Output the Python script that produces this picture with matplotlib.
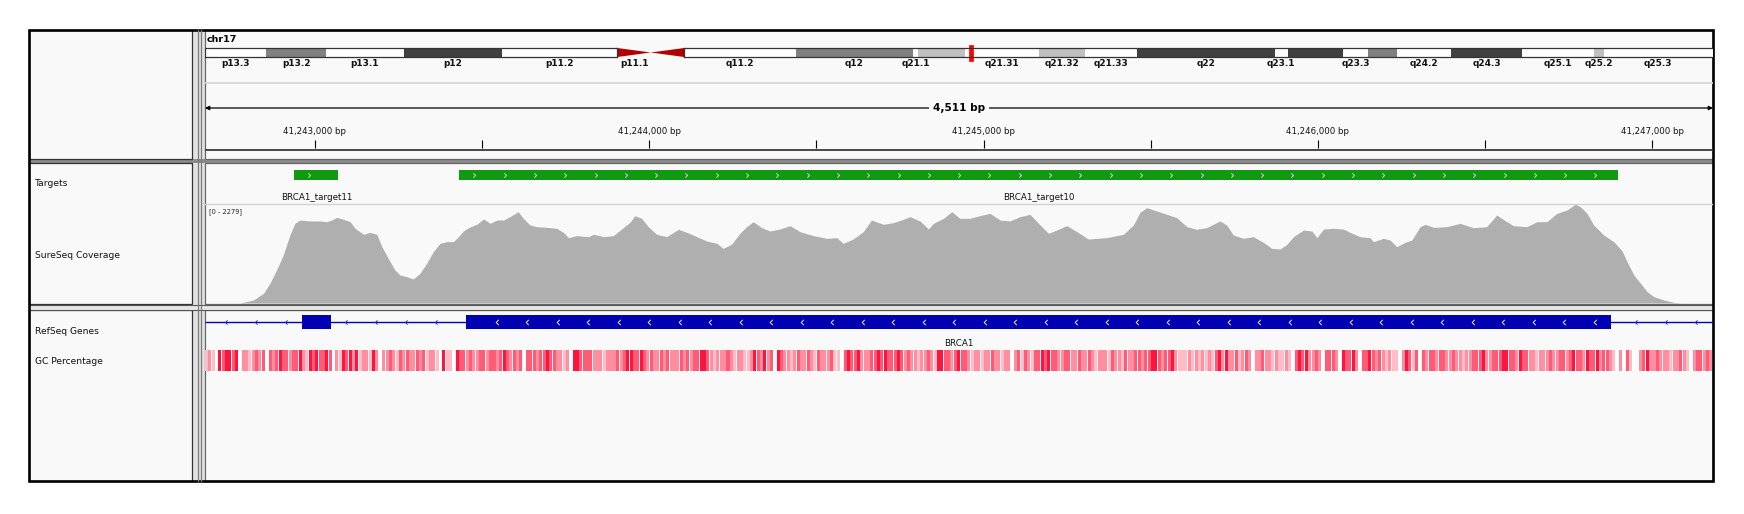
import numpy as np
import matplotlib
matplotlib.use("Agg")
import matplotlib.pyplot as plt
from matplotlib.patches import Rectangle, Polygon
from matplotlib.path import Path

# ---------------- data ----------------
chrom_name = "chr17"
view_start = 41242671
view_end = 41247182
chrom_length = 81195210

band_names = ["p13.3", "p13.2", "p13.1", "p12", "p11.2", "p11.1", "q11.1", "q11.2",
              "q12", "q21.1", "q21.2", "q21.31", "q21.32", "q21.33", "q22", "q23.1",
              "q23.2", "q23.3", "q24.1", "q24.2", "q24.3", "q25.1", "q25.2", "q25.3"]
band_start_mb = [0.0, 3.3, 6.5, 10.7, 16.0, 22.2, 24.0, 25.8, 31.8, 38.1, 38.4, 40.9,
                 44.9, 47.4, 50.2, 57.6, 58.3, 61.3, 62.6, 64.2, 67.1, 70.9, 74.8, 75.3]
band_end_mb = [3.3, 6.5, 10.7, 16.0, 22.2, 24.0, 25.8, 31.8, 38.1, 38.4, 40.9, 44.9,
               47.4, 50.2, 57.6, 58.3, 61.3, 62.6, 64.2, 67.1, 70.9, 74.8, 75.3, 81.195]
band_stain = ["gneg", "gpos50", "gneg", "gpos75", "gneg", "acen", "acen", "gneg",
              "gpos50", "gneg", "gpos25", "gneg", "gpos25", "gneg", "gpos75", "gneg",
              "gpos75", "gneg", "gpos50", "gneg", "gpos75", "gneg", "gpos25", "gneg"]
band_labeled = [1, 1, 1, 1, 1, 1, 0, 1, 1, 1, 0, 1, 1, 1, 1, 1, 0, 1, 0, 1, 1, 1, 1, 1]

tick_major = [41243000, 41244000, 41245000, 41246000, 41247000]
tick_minor = [41243500, 41244500, 41245500, 41246500]

target_names = ["BRCA1_target11", "BRCA1_target10"]
target_start = [41242938, 41243432]
target_end = [41243070, 41246899]

gene_name = "BRCA1"
exon_start = [41242960, 41243451]
exon_end = [41243048, 41246878]

track_names = ["Targets", "SureSeq Coverage", "RefSeq Genes", "GC Percentage"]

cov_max = 2279
cov_offset_bp = [0, 105, 110, 145, 175, 194, 214, 234, 254, 269, 284, 314, 344, 364, 379,
                 394, 414, 434, 449, 474, 494, 514, 529, 548, 568, 583, 603, 623, 643, 663,
                 683, 703, 723, 743, 758, 773, 788, 813, 833, 853, 873, 893, 912, 937, 952,
                 972, 992, 1022, 1052, 1072, 1087, 1112, 1147,
                 1162, 1192, 1221, 1251, 1271, 1286, 1306, 1326, 1351, 1381, 1416, 1441,
                 1471, 1501, 1531, 1550, 1575, 1600, 1620, 1640, 1665, 1690, 1720, 1750,
                 1780, 1820, 1860, 1890, 1909, 1939, 1969, 1994, 2029, 2059, 2089, 2109,
                 2139, 2164, 2179, 2209, 2234, 2258,
                 2288, 2318, 2348, 2378, 2408, 2438, 2468, 2498, 2523, 2548, 2578, 2608,
                 2642, 2667, 2697, 2727, 2747, 2777, 2797, 2817, 2847, 2877, 2907, 2937,
                 2966, 2996, 3036, 3056, 3076, 3106, 3136, 3166, 3191, 3216, 3236, 3256,
                 3286, 3311, 3326, 3346, 3375, 3405,
                 3425, 3455, 3485, 3495, 3525, 3545, 3565, 3590, 3610, 3635, 3650, 3675,
                 3715, 3754, 3794, 3834, 3864, 3894, 3914, 3954, 3984, 4014, 4044, 4074,
                 4099, 4114, 4134, 4154, 4184, 4214, 4239, 4254, 4274, 4294, 4314, 4334,
                 4364, 4394, 4413, 4511]
cov_depth = [0, 0, 8, 69, 223, 453, 760, 1105, 1565, 1834, 1910, 1888, 1888, 1872, 1910,
             1972, 1926, 1872, 1719, 1581, 1627, 1581, 1297, 1028, 760, 645, 606, 552, 683,
             913, 1182, 1373, 1412, 1412, 1527, 1657, 1734, 1811, 1934, 1834, 1910, 1910,
             1987, 2102, 1949, 1795, 1757, 1742, 1719, 1627, 1504, 1550, 1527,
             1581, 1527, 1550, 1734, 1857, 2010, 1949, 1757, 1581, 1527, 1696, 1627, 1527,
             1427, 1373, 1258, 1350, 1604, 1757, 1872, 1734, 1657, 1703, 1780, 1642, 1550,
             1488, 1504, 1373, 1473, 1642, 1910, 1811, 1849, 1926, 1987, 1888, 1703, 1834,
             1949, 2102, 1949,
             1949, 2010, 2064, 1910, 1888, 1987, 2041, 1795, 1604, 1680, 1780, 1642, 1473,
             1488, 1504, 1550, 1581, 1795, 2087, 2194, 2118, 2041, 1964, 1757, 1696, 1734,
             1888, 1795, 1565, 1488, 1527, 1396, 1258, 1243, 1350, 1527, 1680, 1657, 1504,
             1703, 1719, 1703,
             1627, 1527, 1504, 1412, 1488, 1450, 1297, 1396, 1450, 1757, 1811, 1742, 1757,
             1834, 1734, 1757, 2026, 1872, 1780, 1757, 1872, 1872, 2064, 2141, 2271, 2218,
             2064, 1795, 1565, 1412, 1197, 951, 645, 453, 261, 146, 69, 15, 0, 0]

# GC heat level (0 = lowest .. 4 = highest) per 10 bp bin
gc_bin_bp = 10
gc_level_a = [1, 2, 1, 0, 4, 3, 4, 4, 3, 4, 0, 2, 2, 1, 2, 3, 2, 3, 0, 3, 2, 3, 4, 3, 3, 2,
              3, 3, 4, 2, 1, 4, 3, 4, 3, 3, 4, 3, 0, 2, 1, 4, 3, 4, 2, 4, 1, 2, 2, 1, 4, 2,
              0, 2, 2, 3, 2, 1, 3, 2, 3, 2, 2, 3, 2, 3, 1, 2, 2, 1, 0, 4, 1, 1, 0, 4, 3, 3,
              2, 3, 2, 2, 3, 3, 2, 3, 3, 2, 3, 4, 3, 2, 3, 2, 3, 0, 3, 3, 3, 2, 3, 3, 4, 3,
              3, 2, 2, 1, 2, 0, 4, 4, 3, 3, 3, 3, 2, 2, 2, 1, 2, 2, 2, 3, 2, 3, 4, 4, 3, 3,
              4, 3, 2, 3, 2, 2, 3, 2, 3, 2, 2, 2, 3, 2, 3, 2, 3, 3, 4, 4, 3]
gc_level_b = [2, 1, 2, 2, 2, 3, 2, 1, 2, 2, 1, 1, 2, 4, 3, 2, 4, 2, 3, 0, 4, 3, 2, 2, 1, 2,
              3, 2, 2, 3, 2, 1, 3, 2, 2, 2, 3, 1, 1, 0, 3, 4, 3, 3, 4, 2, 2, 2, 3, 3, 4, 3,
              4, 3, 3, 3, 4, 3, 2, 3, 2, 2, 1, 2, 2, 3, 2, 1, 4, 4, 3, 3, 2, 3, 4, 3, 3, 2,
              1, 2, 2, 1, 2, 2, 3, 2, 2, 1, 2, 2, 0, 2, 3, 1, 3, 2, 1, 3, 3, 4, 3, 4, 3, 3,
              2, 2, 3, 3, 2, 2, 3, 2, 2, 3, 2, 1, 2, 2, 2, 1, 3, 2, 2, 1, 3, 2, 2, 3, 3, 2,
              3, 3, 4, 4, 3, 2, 3, 3, 4, 2, 1, 1, 1, 2, 1, 2, 1, 2, 1, 2, 1]
gc_level_c = [3, 4, 2, 4, 2, 2, 3, 1, 2, 3, 2, 0, 2, 2, 3, 2, 2, 1, 2, 1, 1, 2, 1, 0, 3, 4,
              3, 4, 2, 2, 3, 2, 0, 3, 3, 3, 2, 0, 4, 3, 3, 4, 2, 0, 3, 3, 4, 3, 2, 3, 2, 1,
              2, 1, 1, 0, 2, 4, 3, 1, 3, 0, 3, 2, 3, 3, 2, 3, 3, 2, 2, 3, 2, 2, 1, 2, 2, 3,
              3, 3, 4, 2, 2, 3, 3, 3, 4, 4, 3, 3, 2, 4, 3, 3, 2, 2, 1, 2, 2, 2, 3, 2, 2, 3,
              3, 2, 3, 4, 3, 3, 2, 4, 3, 3, 4, 2, 3, 3, 2, 1, 0, 2, 0, 3, 1, 0, 0, 2, 3, 4,
              2, 2, 3, 2, 2, 2, 1, 2, 2, 3, 2, 1, 0, 2, 3, 3, 2, 3, 2, 3, 4]

# ---------------- styling ----------------
W, H = 1744, 514
BG = "#f9f9f9"
stain_color = {"gneg": "#ffffff", "gpos25": "#c0c0c0", "gpos50": "#808080",
               "gpos75": "#404040", "acen": "#b00000"}
gc_colors = ["#ffffff", "#ffbdc8", "#ff8ea1", "#ff5a76", "#ff1440"]
plt.rcParams["font.family"] = ["DejaVu Sans"]

fig = plt.figure(figsize=(W / 100, H / 100), dpi=100)
fig.patch.set_facecolor("white")


def px_axes(x0, y0, x1, y1):
    a = fig.add_axes([x0 / W, 1 - y1 / H, (x1 - x0) / W, (y1 - y0) / H])
    a.set_axis_off()
    return a


# layout (pixels)
L, R, T, B = 29, 1713, 30, 481
NAME_R, DATA_L = 192, 205
rows = [(30, 159), (163, 304), (310, 481)]

bg = px_axes(0, 0, W, H)
bg.set_xlim(0, W)
bg.set_ylim(H, 0)
bg.add_patch(Rectangle((L, T), R - L, B - T, fc="#e2e2e2", ec="none"))
bg.add_patch(Rectangle((L, 159), R - L, 4, fc="#8a8a8a", ec="none"))
for y0, y1 in rows:
    bg.add_patch(Rectangle((L, y0), NAME_R - L, y1 - y0, fc=BG, ec="#333333", lw=0.9))
    bg.add_patch(Rectangle((DATA_L, y0), R - DATA_L, y1 - y0, fc=BG, ec="#666666", lw=0.9))
bg.add_patch(Rectangle((L, 304.5), R - L, 5, fc="#e6e6e6", ec="#555555", lw=0.8))
for xv in (197.5, 200.5):
    bg.plot([xv, xv], [T, B], color="#7a7a7a", lw=0.9)
bg.add_patch(Rectangle((L, T), R - L, B - T, fill=False, ec="black", lw=1.9))

bg.text(207, 39.5, chrom_name, fontsize=6.8, fontweight="bold", va="center", ha="left")
name_y = [183, 255, 331, 362]
for nm, yy in zip(track_names, name_y):
    bg.text(35, yy, nm, fontsize=6.6, va="center", ha="left", color="#111111")
bg.text(209, 212, f"[0 - {cov_max}]", fontsize=4.8, va="center", ha="left", color="#222222")

# ---------------- ideogram ----------------
ideo = px_axes(DATA_L, 43, R, 70)
ideo.set_xlim(0, chrom_length)
ideo.set_ylim(70, 43)
mb = 1e6
for nm, s, e, st, lab in zip(band_names, band_start_mb, band_end_mb, band_stain, band_labeled):
    if st == "acen":
        if nm.startswith("p"):
            pts = [(s * mb, 48), (s * mb, 57), (e * mb, 52.5)]
        else:
            pts = [(s * mb, 52.5), (e * mb, 48), (e * mb, 57)]
        ideo.add_patch(Polygon(pts, closed=True, fc=stain_color[st], ec="none"))
    else:
        ideo.add_patch(Rectangle((s * mb, 48), (e - s) * mb, 9, fc=stain_color[st], ec="none"))
    if lab:
        ideo.text((s + e) / 2 * mb, 63.5, nm, fontsize=6.5, fontweight="bold",
                  ha="center", va="center", color="#111111")
p_end = band_start_mb[band_stain.index("acen")] * mb
q_start = band_end_mb[len(band_stain) - 1 - band_stain[::-1].index("acen")] * mb
for yy in (48, 57):
    ideo.plot([0, p_end], [yy, yy], color="#333333", lw=0.9)
    ideo.plot([q_start, chrom_length], [yy, yy], color="#333333", lw=0.9)
for xx in (0, p_end, q_start):
    ideo.plot([xx, xx], [48, 57], color="#333333", lw=0.9)
mark_w = 3.5 * chrom_length / (R - DATA_L)
mid = (view_start + view_end) / 2
ideo.add_patch(Rectangle((mid - mark_w / 2, 44.5), mark_w, 16, fc="#ff0000", ec="#ff0000", lw=0.5))

# ---------------- main data axes (x = bp, y = pixel rows) ----------------
ax = px_axes(DATA_L, T, R, B)
ax.set_xlim(view_start, view_end)
ax.set_ylim(B, T)
bpp = (view_end - view_start) / (R - DATA_L)

ax.axhline(83, color="#d4d4d4", lw=1.2)
ax.annotate("", xy=(view_start, 108), xytext=(view_end, 108),
            arrowprops=dict(arrowstyle="<|-|>", color="black", lw=0.9,
                            mutation_scale=6, shrinkA=0, shrinkB=0))
ax.text(mid, 108, f"{view_end - view_start:,} bp", fontsize=7.6, fontweight="bold",
        ha="center", va="center", bbox=dict(fc=BG, ec="none", pad=2.5))
ax.vlines(tick_major + tick_minor, 140, 148, color="black", lw=0.8)
for t in tick_major:
    ax.text(t, 131, f"{t:,} bp", fontsize=6.2, ha="center", va="center", color="#111111")
ax.axhline(150, color="#3a3a3a", lw=1.3)
ax.axhline(203.5, color="#d2d2d2", lw=1.0)

# chevron markers
right_chev = Path([(-0.5, 1), (0.5, 0), (-0.5, -1)], [Path.MOVETO, Path.LINETO, Path.LINETO])
left_chev = Path([(0.5, 1), (-0.5, 0), (0.5, -1)], [Path.MOVETO, Path.LINETO, Path.LINETO])

# targets
for nm, s, e in zip(target_names, target_start, target_end):
    ax.broken_barh([(s, e - s)], (170, 10), facecolors="#129912", edgecolor="none")
    cx = np.arange(s + 15 * bpp, e - 8 * bpp, 30.3 * bpp)
    ax.plot(cx, np.full(len(cx), 175), ls="none", marker=right_chev, markersize=3.0,
            mfc="none", mec="#e8ffe8", mew=0.6)
    ax.text((s + e) / 2, 197, nm, fontsize=6.3, ha="center", va="center", color="#111111")

# gene
GENE_BLUE = "#0000b2"
ax.hlines(322, view_start, view_end, color=GENE_BLUE, lw=1.0)
intr = np.arange(view_start + 21 * bpp, view_end, 30 * bpp)
in_exon = np.zeros(len(intr), bool)
for s, e in zip(exon_start, exon_end):
    in_exon |= (intr > s - 4 * bpp) & (intr < e + 4 * bpp)
ax.plot(intr[~in_exon], np.full((~in_exon).sum(), 322), ls="none", marker=left_chev,
        markersize=3.0, mfc="none", mec="#2a2ad0", mew=0.7)
for s, e in zip(exon_start, exon_end):
    ax.broken_barh([(s, e - s)], (314.5, 14.5), facecolors=GENE_BLUE, edgecolor="none")
    if (e - s) / bpp > 60:
        ex = np.arange(s + 31 * bpp, e - 12 * bpp, 30.5 * bpp)
        ax.plot(ex, np.full(len(ex), 322), ls="none", marker=left_chev, markersize=3.8,
                mfc="none", mec="#e6e6ff", mew=0.7)
ax.text(mid, 344, gene_name, fontsize=6.3, ha="center", va="center", color="#111111")

# GC percentage heat strip
gc_level = gc_level_a + gc_level_b + gc_level_c
gc_x = view_start + np.arange(len(gc_level)) * gc_bin_bp
ax.bar(gc_x, 20.5, bottom=350, width=gc_bin_bp * 0.9, align="edge",
       color=[gc_colors[v] for v in gc_level], linewidth=0)

# ---------------- coverage ----------------
cov = px_axes(DATA_L, 204, R, 303)
cov.set_xlim(view_start, view_end)
cov.set_ylim(0, cov_max)
cx = view_start + np.array(cov_offset_bp)
cov.fill_between(cx, 0, cov_depth, color="#afafaf", lw=0)

fig.savefig("out.png", dpi=100, facecolor="white")
